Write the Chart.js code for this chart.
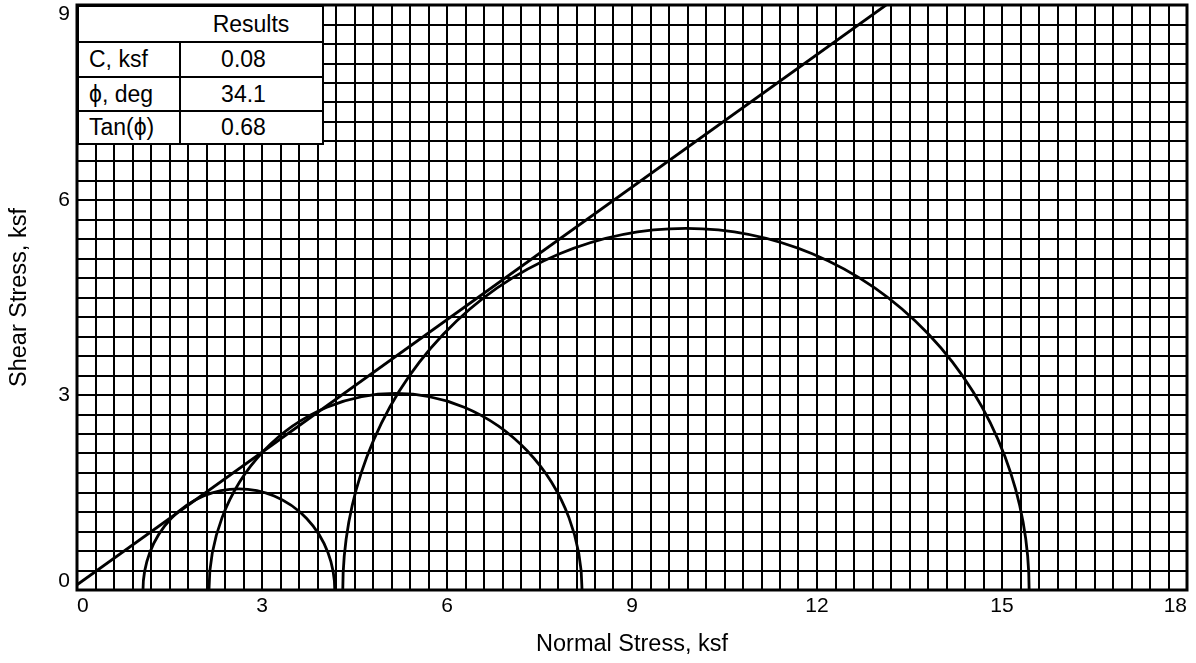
<!DOCTYPE html>
<html>
<head>
<meta charset="utf-8">
<script src="https://cdn.jsdelivr.net/npm/chart.js@4.4.1/dist/chart.umd.min.js"></script>
<style>
    html, body { margin: 0; padding: 0; background: #fff; }
    #wrap { position: relative; width: 1196px; height: 663px; }
    #results {
        position: absolute; left: 77px; top: 5px;
        border-collapse: collapse; background: #fff;
        font-family: "Liberation Sans", Arial, sans-serif; font-size: 23px; color: #000;
    }
    #results td { border: 2px solid #000; padding: 0; line-height: 1; }
    #results td.lbl { width: 102px; padding-left: 10px; text-align: left; box-sizing: border-box; }
    #results td.val { width: 143px; text-align: center; padding-right: 16px; box-sizing: border-box; }
    #results tr.head td.val { padding-right: 0; }
    #results tr.head td.lbl { border-right: none; }
    #results tr.head td.val { border-left: none; }
</style>
</head>
<body>
<div id="wrap">
    <canvas id="chart" width="1196" height="663"></canvas>
    <table id="results">
        <tr class="head" style="height:36px"><td class="lbl"></td><td class="val">Results</td></tr>
        <tr style="height:35px"><td class="lbl">C, ksf</td><td class="val">0.08</td></tr>
        <tr style="height:34px"><td class="lbl">ϕ, deg</td><td class="val">34.1</td></tr>
        <tr style="height:33px"><td class="lbl">Tan(ϕ)</td><td class="val">0.68</td></tr>
    </table>
</div>
<script>
// Mohr circles: minor and major principal stress (ksf)
const sigma3 = [1.07, 2.14, 4.31];
const sigma1 = [4.18, 8.19, 15.44];

// failure envelope
const envelopeX = [0, 13.12];
const envelopeY = [0.08, 9];

const xTickLabels = [0, 3, 6, 9, 12, 15, 18];
const yTickLabels = [0, 3, 6, 9];

const fontFamily = '"Liberation Sans", Arial, sans-serif';

const envelopePoints = envelopeX.map((x, i) => ({ x: x, y: envelopeY[i] }));

function isLabelled(v, list) {
    return list.some(t => Math.abs(t - v) < 1e-6);
}

// y labels: keep the end ones inside the plot (two-line trick)
function yLabel(v) {
    if (!isLabelled(v, yTickLabels)) return '';
    const s = String(Math.round(v));
    if (Math.abs(v - 9) < 1e-6) return ['', s];
    if (Math.abs(v) < 1e-6) return [s, ''];
    return s;
}

// half circles drawn through the chart scales
const mohrPlugin = {
    id: 'mohr',
    afterDatasetsDraw(chart) {
        const ctx = chart.ctx;
        const xs = chart.scales.x;
        const ys = chart.scales.y;
        const area = chart.chartArea;
        ctx.save();
        ctx.beginPath();
        ctx.rect(area.left, area.top, area.right - area.left, area.bottom - area.top);
        ctx.clip();
        ctx.strokeStyle = '#000';
        ctx.lineWidth = 2.8;
        sigma3.forEach((s3, i) => {
            const s1 = sigma1[i];
            const c = (s1 + s3) / 2;
            const r = (s1 - s3) / 2;
            const px = xs.getPixelForValue(c);
            const py = ys.getPixelForValue(0);
            const rx = xs.getPixelForValue(c + r) - px;
            const ry = py - ys.getPixelForValue(r);
            ctx.beginPath();
            ctx.ellipse(px, py, rx, ry, 0, Math.PI, 2 * Math.PI);
            ctx.stroke();
        });
        ctx.restore();
    }
};

const framePlugin = {
    id: 'frame',
    afterDraw(chart) {
        const ctx = chart.ctx;
        const a = chart.chartArea;
        ctx.save();
        ctx.strokeStyle = '#000';
        ctx.lineWidth = 3;
        ctx.strokeRect(a.left, a.top, a.right - a.left, a.bottom - a.top);
        ctx.restore();
    }
};

new Chart(document.querySelector('#chart'), {
    type: 'scatter',
    data: {
        datasets: [{
            label: 'Failure envelope',
            data: envelopePoints,
            showLine: true,
            borderColor: '#000',
            borderWidth: 2.8,
            pointRadius: 0,
            fill: false
        }]
    },
    options: {
        responsive: false,
        animation: false,
        events: [],
        layout: { autoPadding: false, padding: { top: 5, right: 9, left: 0, bottom: 0 } },
        plugins: { legend: { display: false }, tooltip: { enabled: false } },
        scales: {
            x: {
                type: 'linear',
                min: 0, max: 18,
                afterFit(scale) {
                    scale.height = 73;
                    scale.paddingLeft = 0;
                    scale.paddingRight = 0;
                },
                grid: { color: '#000', lineWidth: 2, drawTicks: false },
                border: { display: false },
                ticks: {
                    stepSize: 0.3,
                    autoSkip: false,
                    maxRotation: 0,
                    align: 'inner',
                    padding: 4,
                    color: '#000',
                    font: { family: fontFamily, size: 21 },
                    callback: v => isLabelled(v, xTickLabels) ? String(Math.round(v)) : ''
                },
                title: {
                    display: true,
                    text: 'Normal Stress, ksf',
                    color: '#000',
                    font: { family: fontFamily, size: 23.5 },
                    padding: { top: 0, bottom: 4 }
                }
            },
            y: {
                type: 'linear',
                min: 0, max: 9,
                afterFit(scale) {
                    scale.width = 77;
                    scale.paddingTop = 0;
                    scale.paddingBottom = 0;
                },
                grid: { color: '#000', lineWidth: 2, drawTicks: false },
                border: { display: false },
                ticks: {
                    stepSize: 0.3,
                    autoSkip: false,
                    padding: 7,
                    color: '#000',
                    font: { family: fontFamily, size: 21, lineHeight: 0.85 },
                    callback: yLabel
                },
                title: {
                    display: true,
                    text: 'Shear Stress, ksf',
                    color: '#000',
                    font: { family: fontFamily, size: 23.5 },
                    padding: { top: 5, bottom: 0 }
                }
            }
        }
    },
    plugins: [mohrPlugin, framePlugin]
});
</script>
</body>
</html>
